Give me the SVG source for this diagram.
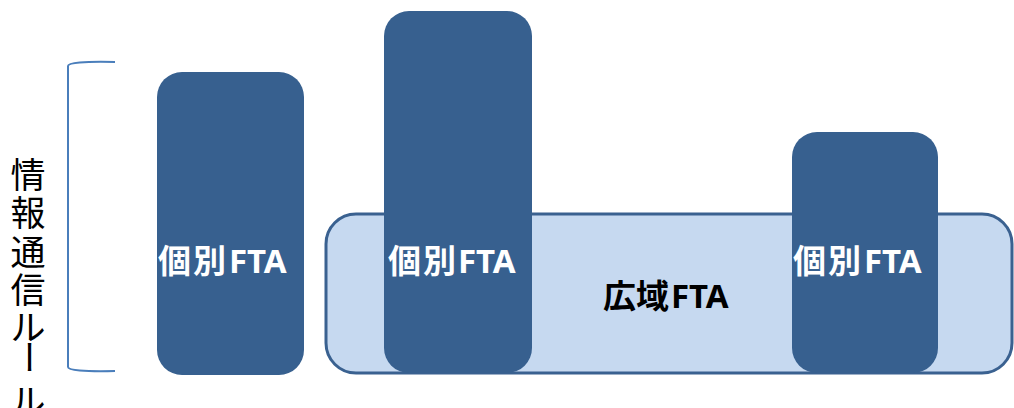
<svg xmlns="http://www.w3.org/2000/svg" width="1014" height="408" viewBox="0 0 1014 408">
<style>
.ind{fill:#37608f;}
.wide{fill:#c6d9f0;stroke:#3a6190;stroke-width:3;}
.lbl{font-family:"Noto Sans CJK JP","Noto Sans",sans-serif;font-weight:bold;font-size:33px;}
.lat{font-family:"Noto Sans","Noto Sans CJK JP",sans-serif;font-weight:bold;font-size:33px;}
.w{fill:#ffffff;}
.k{fill:#000000;}
.vt{font-family:"Noto Sans CJK JP",sans-serif;font-size:35px;fill:#000;text-anchor:middle;}
</style>
<rect width="1014" height="408" fill="#ffffff"/>
<g id="connectors">
<path d="M115,62 Q68,61 68,66 L68,367 Q68,372 115,371" fill="none" stroke="#4a7ebb" stroke-width="2"/>
</g>
<g id="label-rule">
<text class="vt" x="28" y="188">情</text>
<text class="vt" x="28" y="226">報</text>
<text class="vt" x="28" y="265">通</text>
<text class="vt" x="28" y="303">信</text>
<text class="vt" x="28" y="340">ル</text>
<text class="vt" x="28" y="369" transform="rotate(90 28 357)">ー</text>
<text class="vt" x="28" y="414">ル</text>
</g>
<g id="wide-fta">
<rect class="wide" x="326" y="214" width="686" height="159" rx="30"/>
<text class="lbl k" x="603" y="308" textLength="66">広域</text>
<text class="lat k" x="671" y="308">FTA</text>
</g>
<g id="fta1">
<rect class="ind" x="157" y="72" width="147" height="303" rx="25"/>
<text class="lbl w" x="158" y="273" textLength="68">個別</text>
<text class="lat w" x="229" y="273">FTA</text>
</g>
<g id="fta2">
<rect class="ind" x="384" y="11" width="148" height="362" rx="25"/>
<text class="lbl w" x="388" y="273" textLength="68">個別</text>
<text class="lat w" x="458" y="273">FTA</text>
</g>
<g id="fta3">
<rect class="ind" x="792" y="132" width="146" height="241" rx="25"/>
<text class="lbl w" x="793" y="273" textLength="68">個別</text>
<text class="lat w" x="864" y="273">FTA</text>
</g>
</svg>
